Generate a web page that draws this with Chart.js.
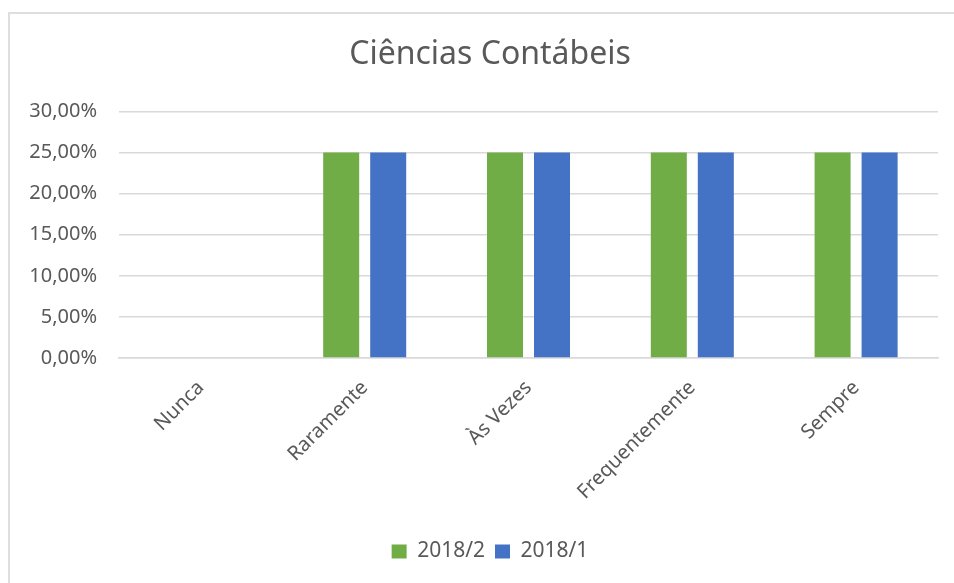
<!DOCTYPE html>
<html>
<head>
<meta charset="utf-8">
<script src="https://cdn.jsdelivr.net/npm/chart.js@4/dist/chart.umd.min.js"></script>
<style>
  html, body { margin: 0; padding: 0; background: #ffffff; overflow: hidden; }
  #wrap { position: relative; width: 954px; height: 583px; }
  #frame { position: absolute; left: 8px; top: 12px; width: 960px; height: 600px;
           border-top: 2px solid #dedede; border-left: 2px solid #dedede; box-sizing: border-box; }
  canvas { position: absolute; left: 0; top: 0; }
</style>
</head>
<body>
<div id="wrap">
  <div id="frame"></div>
  <canvas id="c" width="954" height="583"></canvas>
</div>
<script>
const chartTitle = "Ciências Contábeis";
const categories = ["Nunca", "Raramente", "Às Vezes", "Frequentemente", "Sempre"];
const seriesNames = ["2018/2", "2018/1"];
const values20182 = [0, 25, 25, 25, 25];
const values20181 = [0, 25, 25, 25, 25];
const yTickValues = [0, 5, 10, 15, 20, 25, 30];

const textColor = "#595959";
const fontFamily = "'Noto Sans', 'Open Sans', sans-serif";

// let the y-axis label clip region reach the left edge of the canvas
const widenYLabelArea = {
  id: 'widenYLabelArea',
  afterLayout(chart) {
    const y = chart.scales.y;
    if (y) { y.left = 0; y._labelItems = null; }
  }
};

new Chart(document.getElementById('c'), {
  type: 'bar',
  data: {
    labels: categories,
    datasets: [
      { label: seriesNames[0], data: values20182, backgroundColor: '#70AD47', borderWidth: 0,
        categoryPercentage: 0.574, barPercentage: 0.766 },
      { label: seriesNames[1], data: values20181, backgroundColor: '#4472C4', borderWidth: 0,
        categoryPercentage: 0.574, barPercentage: 0.766 }
    ]
  },
  plugins: [widenYLabelArea],
  options: {
    responsive: false,
    animation: false,
    devicePixelRatio: 1,
    layout: { padding: { left: 42, right: 16, top: 0, bottom: 11 } },
    plugins: {
      title: {
        display: true,
        text: chartTitle,
        color: textColor,
        font: { family: fontFamily, size: 32, weight: 'normal' },
        padding: { top: 36, bottom: 37 }
      },
      legend: {
        display: true,
        position: 'bottom',
        labels: {
          color: textColor,
          font: { family: fontFamily, size: 21 },
          boxWidth: 15,
          boxHeight: 14,
          padding: 10
        }
      },
      tooltip: { enabled: false }
    },
    scales: {
      x: {
        grid: { display: false, drawTicks: false },
        border: { display: true, color: '#d9d9d9', width: 1.5 },
        ticks: {
          color: textColor,
          font: { family: fontFamily, size: 20 },
          minRotation: 45,
          maxRotation: 45,
          autoSkip: false,
          padding: 18
        },
        afterFit: (s) => { s.height = 173; }
      },
      y: {
        min: 0,
        max: 30,
        grid: { color: '#d9d9d9', lineWidth: 1.5, drawTicks: false },
        border: { display: false },
        afterBuildTicks: (s) => { s.ticks = yTickValues.map(v => ({ value: v })); },
        ticks: {
          color: textColor,
          font: { family: fontFamily, size: 20 },
          padding: 22,
          callback: (v) => v.toFixed(2).replace('.', ',') + '%'
        },
        afterFit: (s) => { s.width = 77; }
      }
    }
  }
});
</script>
</body>
</html>
